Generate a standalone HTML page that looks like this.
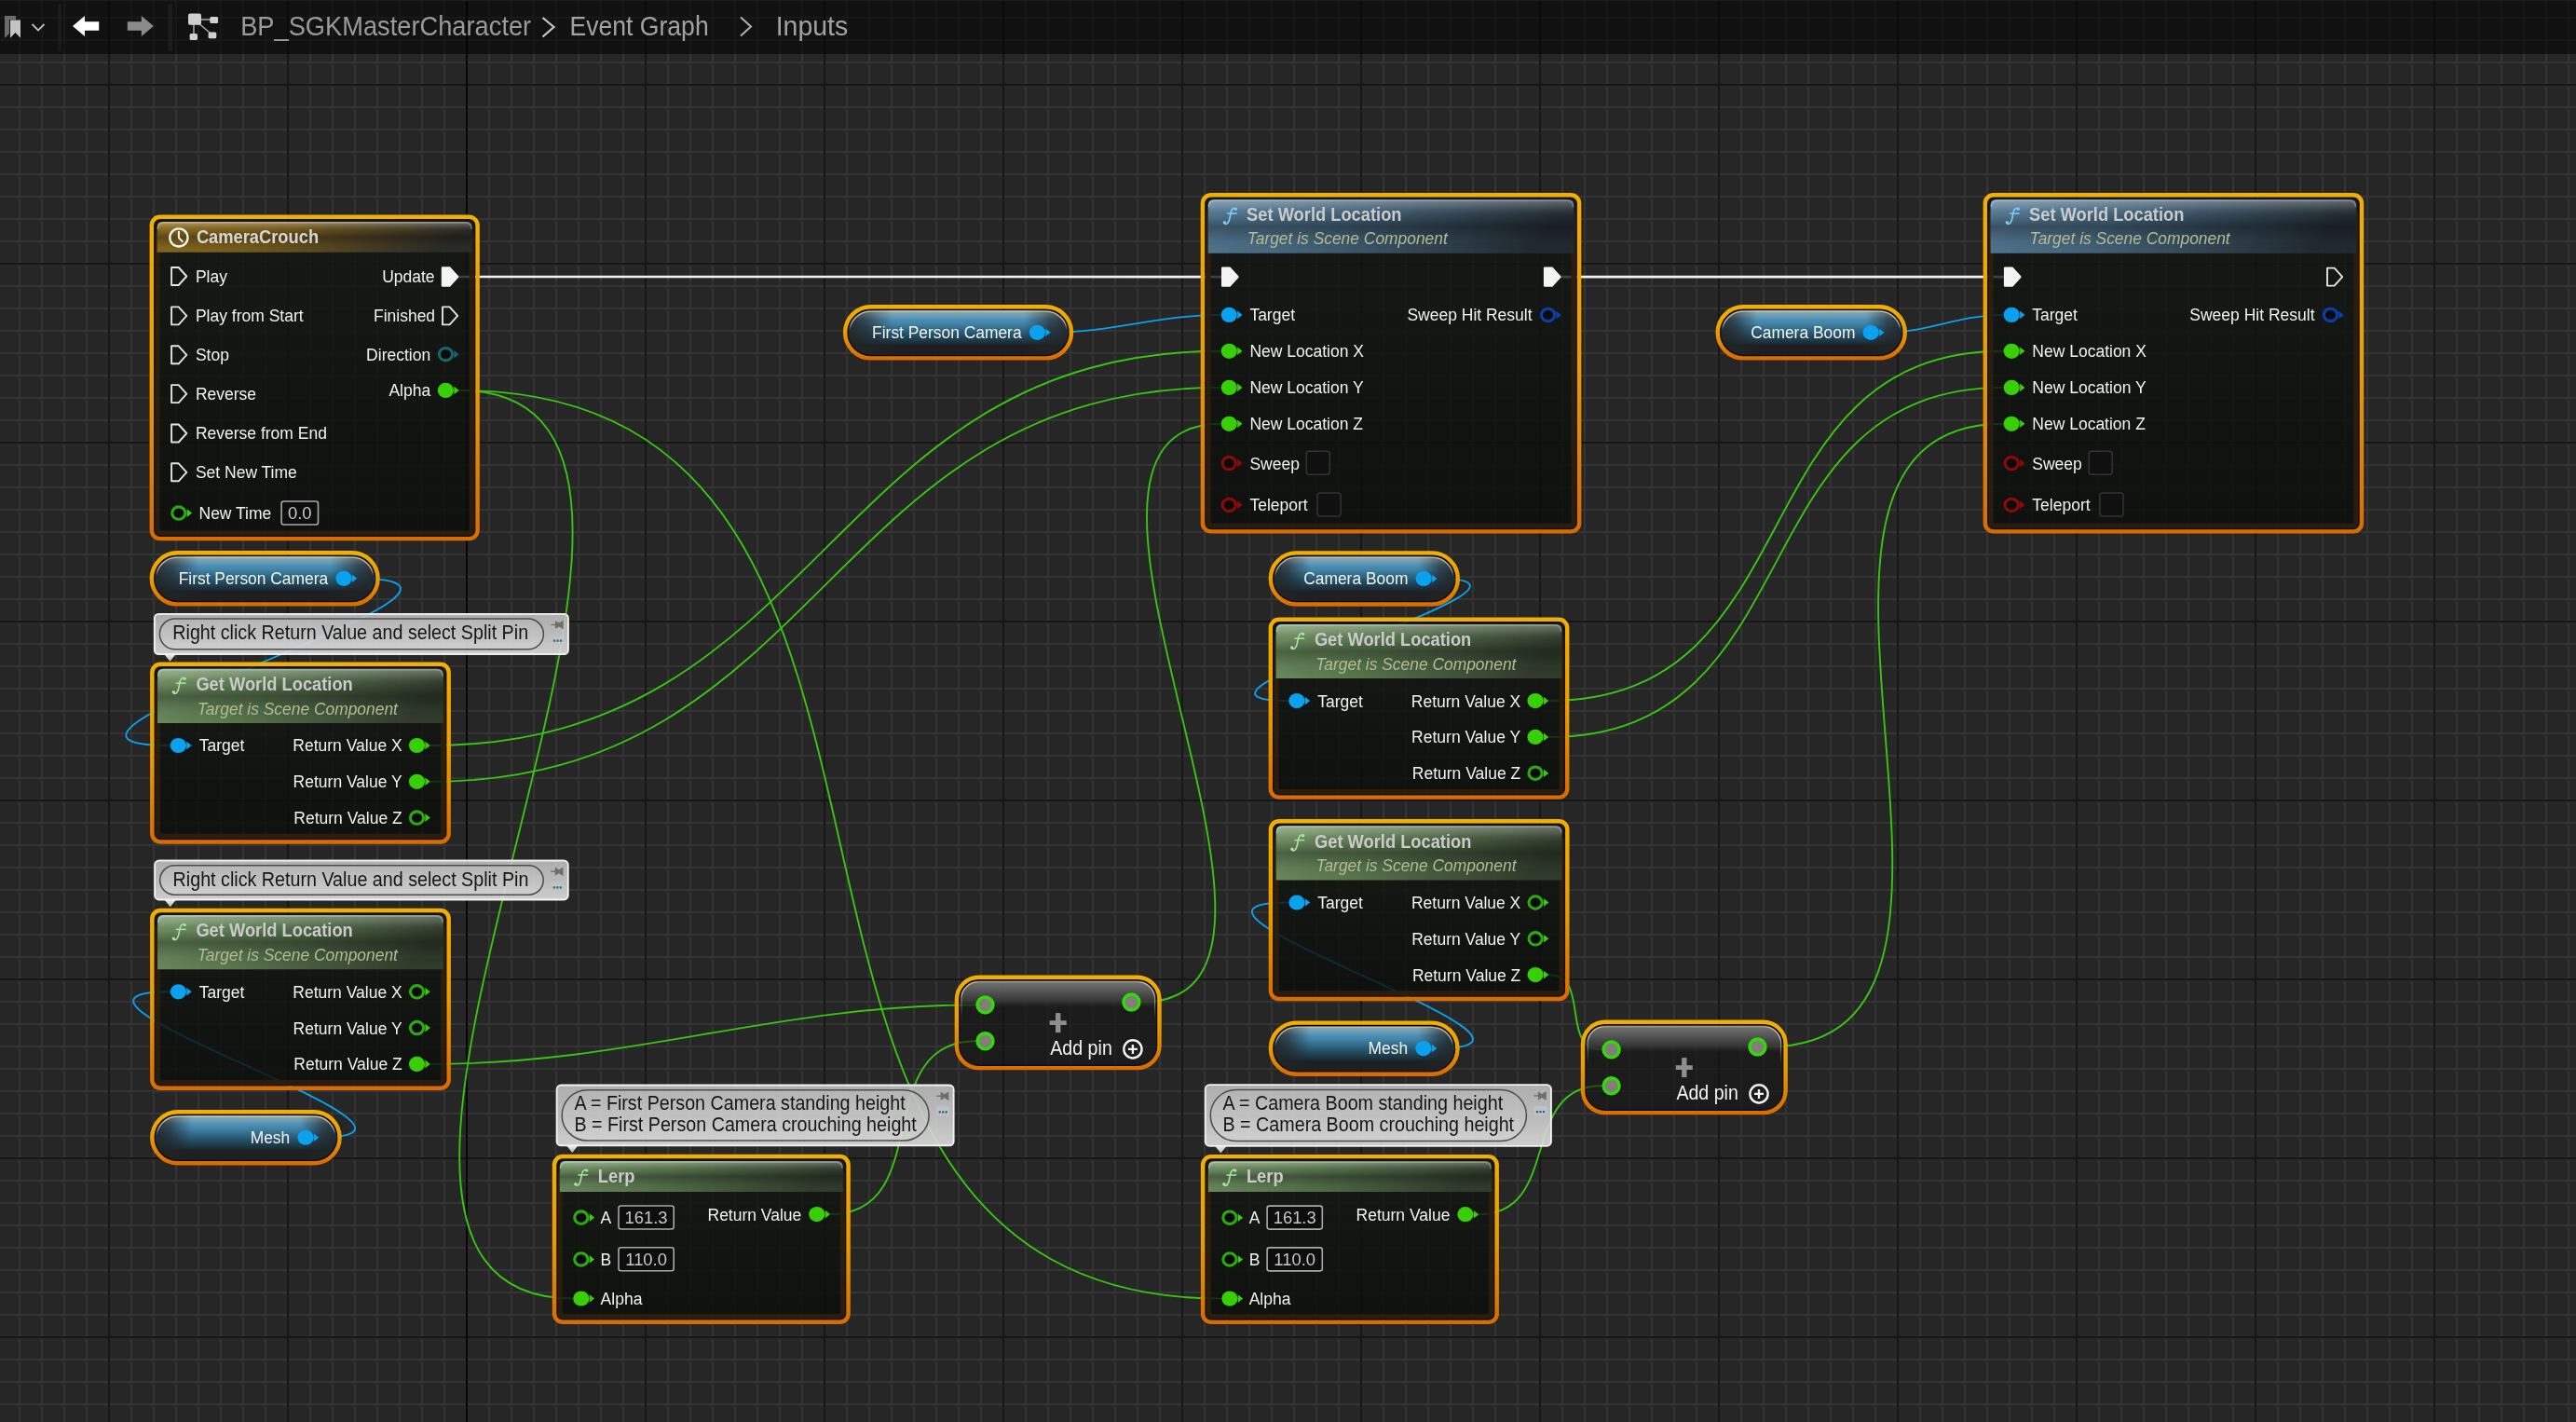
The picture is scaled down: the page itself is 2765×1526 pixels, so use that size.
<!DOCTYPE html><html><head><meta charset="utf-8"><style>

html,body{margin:0;padding:0;background:#262626;}
body{width:2765px;height:1526px;overflow:hidden;position:relative;font-family:"Liberation Sans",sans-serif;}
#grid{position:absolute;left:0;top:0;width:2765px;height:1526px;background-color:#262626;
background-image:
 linear-gradient(to right,#070707 0,#070707 100%),
 linear-gradient(to right,#161616 2px,transparent 2px),
 linear-gradient(to bottom,#161616 2px,transparent 2px),
 linear-gradient(to right,#343434 2px,transparent 2px),
 linear-gradient(to bottom,#343434 2px,transparent 2px);
background-size:2px 100%,192px 100%,100% 192px,24px 100%,100% 24px;
background-position:500px 0,116px 0,0 90px,20px 0,0 18px;
background-repeat:no-repeat,repeat,repeat,repeat,repeat;}
svg{position:absolute;left:0;top:0;will-change:transform;}
text{font-family:"Liberation Sans",sans-serif;}

</style></head><body>
<div id="grid"></div>
<svg width="2765" height="1526" viewBox="0 0 2765 1526">
<defs>

<linearGradient id="ring" x1="0" y1="0" x2="0" y2="1"><stop offset="0" stop-color="#f3af00"/><stop offset="0.5" stop-color="#eb9c00"/><stop offset="1" stop-color="#d96c00"/></linearGradient>
<linearGradient id="gloss" x1="0" y1="0" x2="0" y2="1">
 <stop offset="0" stop-color="#fff" stop-opacity="0.3"/><stop offset="0.14" stop-color="#fff" stop-opacity="0.13"/>
 <stop offset="0.3" stop-color="#000" stop-opacity="0.06"/><stop offset="0.5" stop-color="#000" stop-opacity="0.32"/>
 <stop offset="0.76" stop-color="#000" stop-opacity="0.1"/><stop offset="1" stop-color="#000" stop-opacity="0"/></linearGradient>
<linearGradient id="bodyg" x1="0" y1="0" x2="0" y2="1"><stop offset="0" stop-color="#131613"/><stop offset="1" stop-color="#0a0c0a"/></linearGradient>
<linearGradient id="varblue" x1="0" y1="0" x2="0" y2="1">
 <stop offset="0" stop-color="#85959c"/><stop offset="0.13" stop-color="#58a0c6"/><stop offset="0.3" stop-color="#438db5"/>
 <stop offset="0.55" stop-color="#255670"/><stop offset="0.74" stop-color="#1a303c"/><stop offset="0.79" stop-color="#1d1f21"/><stop offset="1" stop-color="#1d1f21"/></linearGradient>
<linearGradient id="varends" x1="0" y1="0" x2="1" y2="0">
 <stop offset="0" stop-color="#222426" stop-opacity="0.92"/><stop offset="0.08" stop-color="#222426" stop-opacity="0.7"/>
 <stop offset="0.2" stop-color="#222426" stop-opacity="0.05"/><stop offset="0.8" stop-color="#222426" stop-opacity="0.05"/>
 <stop offset="0.92" stop-color="#222426" stop-opacity="0.7"/><stop offset="1" stop-color="#222426" stop-opacity="0.92"/></linearGradient>
<linearGradient id="pillgloss" x1="0" y1="0" x2="0" y2="1">
 <stop offset="0" stop-color="#fff" stop-opacity="0.25"/><stop offset="0.2" stop-color="#fff" stop-opacity="0.03"/><stop offset="0.4" stop-color="#fff" stop-opacity="0"/></linearGradient>
<linearGradient id="addgloss" x1="0" y1="0" x2="0" y2="1">
 <stop offset="0" stop-color="#7a7a7a" stop-opacity="0.95"/><stop offset="0.1" stop-color="#626262" stop-opacity="0.92"/>
 <stop offset="0.24" stop-color="#3c3c3c" stop-opacity="0.85"/><stop offset="0.29" stop-color="#2a2a2a" stop-opacity="0.5"/><stop offset="0.33" stop-color="#1e1e1e" stop-opacity="0"/><stop offset="1" stop-color="#1e1e1e" stop-opacity="0"/></linearGradient>
<linearGradient id="cmt" x1="0" y1="0" x2="0" y2="1"><stop offset="0" stop-color="#bdbdbd"/><stop offset="0.5" stop-color="#cbcbcb"/><stop offset="1" stop-color="#e0e0e0"/></linearGradient>
<linearGradient id="cmtin" x1="0" y1="0" x2="0" y2="1"><stop offset="0" stop-color="#c2c2c2"/><stop offset="1" stop-color="#e4e4e4"/></linearGradient>
<linearGradient id="cmtptr" x1="0" y1="0" x2="0" y2="1"><stop offset="0" stop-color="#e8e8e8"/><stop offset="1" stop-color="#bbbbbb"/></linearGradient>
<linearGradient id="topfade" x1="0" y1="0" x2="0" y2="1"><stop offset="0" stop-color="#fff"/><stop offset="0.25" stop-color="#fff"/><stop offset="0.45" stop-color="#000"/></linearGradient>
<mask id="topmask" maskContentUnits="objectBoundingBox"><rect x="0" y="0" width="1" height="1" fill="url(#topfade)"/></mask>

<linearGradient id="tg1" x1="0" y1="0" x2="1" y2="0.15"><stop offset="0" stop-color="#96741f"/><stop offset="0.4" stop-color="#80631c"/><stop offset="1" stop-color="#2e2e2a"/></linearGradient><linearGradient id="tg2" x1="0" y1="0" x2="1" y2="0.15"><stop offset="0" stop-color="#7b9d6d"/><stop offset="0.4" stop-color="#5f7f54"/><stop offset="1" stop-color="#34402f"/></linearGradient><linearGradient id="tg3" x1="0" y1="0" x2="1" y2="0.15"><stop offset="0" stop-color="#7b9d6d"/><stop offset="0.4" stop-color="#5f7f54"/><stop offset="1" stop-color="#34402f"/></linearGradient><linearGradient id="tg4" x1="0" y1="0" x2="1" y2="0.15"><stop offset="0" stop-color="#5d86a3"/><stop offset="0.4" stop-color="#486a82"/><stop offset="1" stop-color="#242d34"/></linearGradient><linearGradient id="tg5" x1="0" y1="0" x2="1" y2="0.15"><stop offset="0" stop-color="#5d86a3"/><stop offset="0.4" stop-color="#486a82"/><stop offset="1" stop-color="#242d34"/></linearGradient><linearGradient id="tg6" x1="0" y1="0" x2="1" y2="0.15"><stop offset="0" stop-color="#7b9d6d"/><stop offset="0.4" stop-color="#5f7f54"/><stop offset="1" stop-color="#34402f"/></linearGradient><linearGradient id="tg7" x1="0" y1="0" x2="1" y2="0.15"><stop offset="0" stop-color="#7b9d6d"/><stop offset="0.4" stop-color="#5f7f54"/><stop offset="1" stop-color="#34402f"/></linearGradient><linearGradient id="tg8" x1="0" y1="0" x2="1" y2="0.15"><stop offset="0" stop-color="#7b9d6d"/><stop offset="0.4" stop-color="#5f7f54"/><stop offset="1" stop-color="#34402f"/></linearGradient><linearGradient id="tg9" x1="0" y1="0" x2="1" y2="0.15"><stop offset="0" stop-color="#7b9d6d"/><stop offset="0.4" stop-color="#5f7f54"/><stop offset="1" stop-color="#34402f"/></linearGradient>
</defs>
<g id="wires">
<path d="M491.8 297.0C765.0 297.0 1038.0 297.1 1311.2 297.1" fill="none" stroke="#f2f2f2" stroke-width="2.6"/><path d="M1674.9 297.1C1833.6 297.1 1992.4 297.1 2151.1 297.1" fill="none" stroke="#f2f2f2" stroke-width="2.6"/><path d="M1126.9 356.8C1194.5 356.8 1243.1 337.9 1310.7 337.9" fill="none" stroke="#0aa1ec" stroke-width="1.9"/><path d="M2021.7 356.8C2071.0 356.8 2101.3 337.9 2150.6 337.9" fill="none" stroke="#0aa1ec" stroke-width="1.9"/><path d="M382.5 620.8C605.2 620.8 -39.9 800.0 182.8 800.0" fill="none" stroke="#0aa1ec" stroke-width="1.9"/><path d="M341.5 1220.7C525.5 1220.7 -1.2 1064.3 182.8 1064.3" fill="none" stroke="#0aa1ec" stroke-width="1.9"/><path d="M1541.7 620.9C1712.9 620.9 1212.1 752.1 1383.3 752.1" fill="none" stroke="#0aa1ec" stroke-width="1.9"/><path d="M1541.4 1125.1C1725.0 1125.1 1199.8 968.5 1383.4 968.5" fill="none" stroke="#0aa1ec" stroke-width="1.9"/><path d="M461.7 800.0C885.8 800.0 886.6 376.8 1310.7 376.8" fill="none" stroke="#38c412" stroke-width="1.9"/><path d="M461.7 838.8C885.7 838.8 886.7 415.9 1310.7 415.9" fill="none" stroke="#38c412" stroke-width="1.9"/><path d="M461.7 1141.9C678.1 1141.9 830.9 1078.4 1047.3 1078.4" fill="none" stroke="#38c412" stroke-width="1.9"/><path d="M492.6 418.9C858.3 418.9 249.5 1393.5 615.2 1393.5" fill="none" stroke="#38c412" stroke-width="1.9"/><path d="M492.6 418.9C1090.4 418.9 713.5 1393.6 1311.3 1393.6" fill="none" stroke="#38c412" stroke-width="1.9"/><path d="M891.0 1303.1C1005.0 1303.1 933.3 1117.3 1047.3 1117.3" fill="none" stroke="#38c412" stroke-width="1.9"/><path d="M1224.6 1075.5C1460.2 1075.5 1075.1 454.8 1310.7 454.8" fill="none" stroke="#38c412" stroke-width="1.9"/><path d="M1662.2 752.1C1950.1 752.1 1862.7 376.8 2150.6 376.8" fill="none" stroke="#38c412" stroke-width="1.9"/><path d="M1662.2 790.9C1950.0 790.9 1862.8 415.9 2150.6 415.9" fill="none" stroke="#38c412" stroke-width="1.9"/><path d="M1662.3 1046.1C1708.1 1046.1 1673.6 1126.4 1719.4 1126.4" fill="none" stroke="#38c412" stroke-width="1.9"/><path d="M1587.1 1303.2C1677.2 1303.2 1629.3 1165.3 1719.4 1165.3" fill="none" stroke="#38c412" stroke-width="1.9"/><path d="M1896.7 1123.5C2204.2 1123.5 1843.1 454.8 2150.6 454.8" fill="none" stroke="#38c412" stroke-width="1.9"/>
</g>
<g id="nodes">
<rect x="165.6" y="235.6" width="344.2" height="339.7" rx="8.5" fill="url(#bodyg)" fill-opacity="0.8"/>
<path d="M168.5 250.6V567.3Q168.5 572.4 173.6 572.4H501.8Q506.9 572.4 506.9 567.3V250.6" fill="none" stroke="#2e200e" stroke-opacity="0.92" stroke-width="6.0"/>
<path d="M168.6 270.8L506.8 270.8L506.8 243.9Q506.8 237.9 500.8 237.9L174.6 237.9Q168.6 237.9 168.6 243.9Z" fill="url(#tg1)" fill-opacity="0.93"/>
<path d="M168.6 270.8L506.8 270.8L506.8 243.9Q506.8 237.9 500.8 237.9L174.6 237.9Q168.6 237.9 168.6 243.9Z" fill="url(#gloss)"/>
<path d="M169.4 245.9Q169.4 238.9 175.6 238.9L499.8 238.9Q506.0 238.9 506.0 245.9" fill="none" stroke="#ffffff" stroke-opacity="0.26" stroke-width="1.6"/>
<rect x="165.7" y="235.7" width="344.0" height="339.5" rx="6.0" fill="none" stroke="#000" stroke-opacity="0.5" stroke-width="1.3"/>
<rect x="162.8" y="232.8" width="349.8" height="345.3" rx="9.0" fill="none" stroke="url(#ring)" stroke-width="4.4"/>
<circle cx="191.9" cy="254.9" r="9.6" fill="none" stroke="#f6f6f6" stroke-width="2.3"/>
<path d="M191.9 248.1V255.2L196.3 259.7" fill="none" stroke="#f6f6f6" stroke-width="2"/>
<text x="210.9" y="261.1" font-size="20.6" fill="#d6d6d6" font-weight="bold" font-style="normal" textLength="131.2" lengthAdjust="spacingAndGlyphs">CameraCrouch</text>
<path d="M184.1 287.0L191.7 287.0L200.3 296.5L191.7 306.0L184.1 306.0Z" fill="none" stroke="#e4e4e4" stroke-width="1.9" stroke-linejoin="round"/>
<text x="209.9" y="302.9" font-size="18.8" fill="#f2f2f2" font-weight="normal" font-style="normal" textLength="34.0" lengthAdjust="spacingAndGlyphs">Play</text>
<path d="M184.1 329.4L191.7 329.4L200.3 338.9L191.7 348.4L184.1 348.4Z" fill="none" stroke="#e4e4e4" stroke-width="1.9" stroke-linejoin="round"/>
<text x="209.9" y="345.3" font-size="18.8" fill="#f2f2f2" font-weight="normal" font-style="normal" textLength="115.7" lengthAdjust="spacingAndGlyphs">Play from Start</text>
<path d="M184.1 371.3L191.7 371.3L200.3 380.8L191.7 390.3L184.1 390.3Z" fill="none" stroke="#e4e4e4" stroke-width="1.9" stroke-linejoin="round"/>
<text x="209.9" y="387.2" font-size="18.8" fill="#f2f2f2" font-weight="normal" font-style="normal" textLength="36.0" lengthAdjust="spacingAndGlyphs">Stop</text>
<path d="M184.1 413.1L191.7 413.1L200.3 422.6L191.7 432.1L184.1 432.1Z" fill="none" stroke="#e4e4e4" stroke-width="1.9" stroke-linejoin="round"/>
<text x="209.9" y="429.0" font-size="18.8" fill="#f2f2f2" font-weight="normal" font-style="normal" textLength="65.2" lengthAdjust="spacingAndGlyphs">Reverse</text>
<path d="M184.1 455.5L191.7 455.5L200.3 465.0L191.7 474.5L184.1 474.5Z" fill="none" stroke="#e4e4e4" stroke-width="1.9" stroke-linejoin="round"/>
<text x="209.9" y="471.4" font-size="18.8" fill="#f2f2f2" font-weight="normal" font-style="normal" textLength="141.0" lengthAdjust="spacingAndGlyphs">Reverse from End</text>
<path d="M184.1 497.3L191.7 497.3L200.3 506.8L191.7 516.3L184.1 516.3Z" fill="none" stroke="#e4e4e4" stroke-width="1.9" stroke-linejoin="round"/>
<text x="209.9" y="513.2" font-size="18.8" fill="#f2f2f2" font-weight="normal" font-style="normal" textLength="108.9" lengthAdjust="spacingAndGlyphs">Set New Time</text>
<path d="M200.7 546.3L206.1 550.6L200.7 554.9Z" fill="#38cf06"/>
<ellipse cx="191.8" cy="550.6" rx="7.1" ry="6.7" fill="#0a0a0a" stroke="#2cab10" stroke-width="3.1"/>
<text x="213.5" y="557.0" font-size="18.8" fill="#f2f2f2" font-weight="normal" font-style="normal" textLength="77.8" lengthAdjust="spacingAndGlyphs">New Time</text>
<rect x="302.1" y="538.0" width="39.4" height="25" rx="2.5" fill="#0d0d0d" stroke="#a9a9a9" stroke-width="1.6"/>
<text x="321.8" y="557.0" font-size="18.4" fill="#c8c8c8" font-weight="normal" font-style="normal" text-anchor="middle">0.0</text>
<path d="M475.0 287.5L482.6 287.5L491.2 297.0L482.6 306.5L475.0 306.5Z" fill="#f4f4f4" stroke="#f4f4f4" stroke-width="2.4" stroke-linejoin="round"/>
<text x="410.2" y="303.2" font-size="18.8" fill="#f2f2f2" font-weight="normal" font-style="normal" textLength="56.4" lengthAdjust="spacingAndGlyphs">Update</text>
<path d="M475.0 329.4L482.6 329.4L491.2 338.9L482.6 348.4L475.0 348.4Z" fill="none" stroke="#e4e4e4" stroke-width="1.9" stroke-linejoin="round"/>
<text x="401.0" y="345.3" font-size="18.8" fill="#f2f2f2" font-weight="normal" font-style="normal" textLength="66.1" lengthAdjust="spacingAndGlyphs">Finished</text>
<path d="M487.3 375.9L492.7 380.2L487.3 384.5Z" fill="#17666a"/>
<ellipse cx="478.4" cy="380.2" rx="7.1" ry="6.7" fill="#0a0a0a" stroke="#17666a" stroke-width="3.1"/>
<text x="393.1" y="386.6" font-size="18.8" fill="#f2f2f2" font-weight="normal" font-style="normal" textLength="69.1" lengthAdjust="spacingAndGlyphs">Direction</text>
<path d="M487.3 414.6L492.7 418.9L487.3 423.2Z" fill="#38cf06"/>
<ellipse cx="478.4" cy="418.9" rx="8.6" ry="8.1" fill="#38cf06"/>
<text x="417.4" y="425.3" font-size="18.8" fill="#f2f2f2" font-weight="normal" font-style="normal" textLength="44.8" lengthAdjust="spacingAndGlyphs">Alpha</text>
<rect x="166.6" y="597.1" width="235.2" height="47.5" rx="23.8" fill="#1c1e1f" fill-opacity="0.95"/>
<rect x="166.6" y="597.1" width="235.2" height="47.5" rx="23.8" fill="url(#varblue)" fill-opacity="0.95"/>
<rect x="166.6" y="597.1" width="235.2" height="47.5" rx="23.8" fill="url(#varends)"/>
<rect x="166.6" y="597.1" width="235.2" height="47.5" rx="23.8" fill="url(#pillgloss)"/>
<rect x="167.6" y="598.1" width="233.2" height="45.5" rx="22.8" fill="none" stroke="#e9dcae" stroke-opacity="0.75" stroke-width="1.3" mask="url(#topmask)"/>
<rect x="165.6" y="596.1" width="237.2" height="49.5" rx="24.8" fill="none" stroke="#000" stroke-opacity="0.75" stroke-width="1.4"/>
<rect x="162.8" y="593.3" width="242.8" height="55.1" rx="27.6" fill="none" stroke="url(#ring)" stroke-width="4.4"/>
<text x="191.7" y="627.0" font-size="18.0" fill="#f4f4f4" font-weight="normal" font-style="normal" textLength="160.5" lengthAdjust="spacingAndGlyphs">First Person Camera</text>
<path d="M377.9 616.5L383.3 620.8L377.9 625.1Z" fill="#0aa2ee"/>
<ellipse cx="369.0" cy="620.8" rx="8.6" ry="8.1" fill="#0aa2ee"/>
<path d="M176.5 702.5L188.3 702.5L182.5 709.8Z" fill="url(#cmtptr)"/>
<rect x="165.8" y="658.8" width="444.2" height="43.3" rx="4.5" fill="url(#cmt)" fill-opacity="0.9" stroke="#ffffff" stroke-opacity="0.9" stroke-width="1.8"/>
<rect x="171.4" y="664.1" width="412.0" height="32.7" rx="16.4" fill="url(#cmtin)" fill-opacity="0.25" stroke="#4c4c4c" stroke-width="1.5"/>
<text x="185.3" y="686.0" font-size="21.4" fill="#151515" font-weight="normal" font-style="normal" textLength="381.8" lengthAdjust="spacingAndGlyphs">Right click Return Value and select Split Pin</text>
<path d="M591.5 670.5H596.5" stroke="#6e6e6e" stroke-width="1.4"/>
<path d="M596.0 665.9L600.0 668.5L604.7 665.7L604.7 675.3L600.0 672.5L596.0 675.1Z" fill="#6e6e6e"/>
<rect x="591.5" y="681.5" width="14" height="10" rx="1.5" fill="#b9c5cd" fill-opacity="0.9"/>
<path d="M593.9 687.7h2.2M597.4 687.7h2.2M600.9 687.7h2.2" stroke="#4a5a66" stroke-width="2.2"/>
<rect x="166.1" y="715.5" width="312.8" height="185.2" rx="8.5" fill="url(#bodyg)" fill-opacity="0.8"/>
<path d="M169.0 730.5V892.7Q169.0 897.8 174.1 897.8H470.9Q476.0 897.8 476.0 892.7V730.5" fill="none" stroke="#2e200e" stroke-opacity="0.92" stroke-width="6.0"/>
<path d="M169.1 775.9L475.9 775.9L475.9 723.8Q475.9 717.8 469.9 717.8L175.1 717.8Q169.1 717.8 169.1 723.8Z" fill="url(#tg2)" fill-opacity="0.93"/>
<path d="M169.1 775.9L475.9 775.9L475.9 723.8Q475.9 717.8 469.9 717.8L175.1 717.8Q169.1 717.8 169.1 723.8Z" fill="url(#gloss)"/>
<path d="M169.9 725.8Q169.9 718.8 176.1 718.8L468.9 718.8Q475.1 718.8 475.1 725.8" fill="none" stroke="#ffffff" stroke-opacity="0.26" stroke-width="1.6"/>
<rect x="166.2" y="715.6" width="312.6" height="185.0" rx="6.0" fill="none" stroke="#000" stroke-opacity="0.5" stroke-width="1.3"/>
<rect x="163.3" y="712.7" width="318.4" height="190.8" rx="9.0" fill="none" stroke="url(#ring)" stroke-width="4.4"/>
<path d="M185.8 743.3C187.8 745.7 190.8 744.1 191.9 738.0L193.0 732.0C194.0 727.3 197.2 726.8 198.6 728.3" fill="none" stroke="#a8e6a0" stroke-width="1.6" stroke-linecap="round"/>
<circle cx="186.3" cy="742.8" r="1.7" fill="#a8e6a0"/>
<circle cx="198.2" cy="728.2" r="1.6" fill="#a8e6a0"/>
<path d="M188.9 733.1H199.6" stroke="#a8e6a0" stroke-width="1.5"/>
<text x="210.4" y="741.1" font-size="20.2" fill="#cbcbcb" font-weight="bold" font-style="normal" textLength="168.4" lengthAdjust="spacingAndGlyphs">Get World Location</text>
<text x="211.8" y="766.5" font-size="17.6" fill="#b3bb93" font-weight="normal" font-style="italic" textLength="215.1" lengthAdjust="spacingAndGlyphs">Target is Scene Component</text>
<path d="M200.3 795.7L205.7 800.0L200.3 804.3Z" fill="#0aa2ee"/>
<ellipse cx="191.4" cy="800.0" rx="8.6" ry="8.1" fill="#0aa2ee"/>
<text x="213.7" y="806.4" font-size="18.8" fill="#f2f2f2" font-weight="normal" font-style="normal" textLength="48.6" lengthAdjust="spacingAndGlyphs">Target</text>
<path d="M456.4 795.7L461.8 800.0L456.4 804.3Z" fill="#38cf06"/>
<ellipse cx="447.5" cy="800.0" rx="8.6" ry="8.1" fill="#38cf06"/>
<text x="314.3" y="806.4" font-size="18.8" fill="#f2f2f2" font-weight="normal" font-style="normal" textLength="117.4" lengthAdjust="spacingAndGlyphs">Return Value X</text>
<path d="M456.4 834.5L461.8 838.8L456.4 843.1Z" fill="#38cf06"/>
<ellipse cx="447.5" cy="838.8" rx="8.6" ry="8.1" fill="#38cf06"/>
<text x="314.6" y="845.2" font-size="18.8" fill="#f2f2f2" font-weight="normal" font-style="normal" textLength="117.1" lengthAdjust="spacingAndGlyphs">Return Value Y</text>
<path d="M456.4 873.3L461.8 877.6L456.4 881.9Z" fill="#38cf06"/>
<ellipse cx="447.5" cy="877.6" rx="7.1" ry="6.7" fill="#0a0a0a" stroke="#2cab10" stroke-width="3.1"/>
<text x="315.3" y="884.0" font-size="18.8" fill="#f2f2f2" font-weight="normal" font-style="normal" textLength="116.4" lengthAdjust="spacingAndGlyphs">Return Value Z</text>
<path d="M176.8 965.9L188.6 965.9L182.8 973.2Z" fill="url(#cmtptr)"/>
<rect x="166.1" y="923.5" width="443.7" height="42.0" rx="4.5" fill="url(#cmt)" fill-opacity="0.9" stroke="#ffffff" stroke-opacity="0.9" stroke-width="1.8"/>
<rect x="171.7" y="928.8" width="411.5" height="31.4" rx="15.7" fill="url(#cmtin)" fill-opacity="0.25" stroke="#4c4c4c" stroke-width="1.5"/>
<text x="185.6" y="950.7" font-size="21.4" fill="#151515" font-weight="normal" font-style="normal" textLength="381.8" lengthAdjust="spacingAndGlyphs">Right click Return Value and select Split Pin</text>
<path d="M591.3 935.2H596.3" stroke="#6e6e6e" stroke-width="1.4"/>
<path d="M595.8 930.6L599.8 933.2L604.5 930.4L604.5 940.0L599.8 937.2L595.8 939.8Z" fill="#6e6e6e"/>
<rect x="591.3" y="946.2" width="14" height="10" rx="1.5" fill="#b9c5cd" fill-opacity="0.9"/>
<path d="M593.7 952.4h2.2M597.2 952.4h2.2M600.7 952.4h2.2" stroke="#4a5a66" stroke-width="2.2"/>
<rect x="166.1" y="979.8" width="312.8" height="185.2" rx="8.5" fill="url(#bodyg)" fill-opacity="0.8"/>
<path d="M169.0 994.8V1157.0Q169.0 1162.1 174.1 1162.1H470.9Q476.0 1162.1 476.0 1157.0V994.8" fill="none" stroke="#2e200e" stroke-opacity="0.92" stroke-width="6.0"/>
<path d="M169.1 1040.2L475.9 1040.2L475.9 988.1Q475.9 982.1 469.9 982.1L175.1 982.1Q169.1 982.1 169.1 988.1Z" fill="url(#tg3)" fill-opacity="0.93"/>
<path d="M169.1 1040.2L475.9 1040.2L475.9 988.1Q475.9 982.1 469.9 982.1L175.1 982.1Q169.1 982.1 169.1 988.1Z" fill="url(#gloss)"/>
<path d="M169.9 990.1Q169.9 983.1 176.1 983.1L468.9 983.1Q475.1 983.1 475.1 990.1" fill="none" stroke="#ffffff" stroke-opacity="0.26" stroke-width="1.6"/>
<rect x="166.2" y="979.9" width="312.6" height="185.0" rx="6.0" fill="none" stroke="#000" stroke-opacity="0.5" stroke-width="1.3"/>
<rect x="163.3" y="977.0" width="318.4" height="190.8" rx="9.0" fill="none" stroke="url(#ring)" stroke-width="4.4"/>
<path d="M185.8 1007.6C187.8 1010.0 190.8 1008.4 191.9 1002.3L193.0 996.3C194.0 991.6 197.2 991.1 198.6 992.6" fill="none" stroke="#a8e6a0" stroke-width="1.6" stroke-linecap="round"/>
<circle cx="186.3" cy="1007.1" r="1.7" fill="#a8e6a0"/>
<circle cx="198.2" cy="992.5" r="1.6" fill="#a8e6a0"/>
<path d="M188.9 997.4H199.6" stroke="#a8e6a0" stroke-width="1.5"/>
<text x="210.4" y="1005.4" font-size="20.2" fill="#cbcbcb" font-weight="bold" font-style="normal" textLength="168.4" lengthAdjust="spacingAndGlyphs">Get World Location</text>
<text x="211.8" y="1030.8" font-size="17.6" fill="#b3bb93" font-weight="normal" font-style="italic" textLength="215.1" lengthAdjust="spacingAndGlyphs">Target is Scene Component</text>
<path d="M200.3 1060.0L205.7 1064.3L200.3 1068.6Z" fill="#0aa2ee"/>
<ellipse cx="191.4" cy="1064.3" rx="8.6" ry="8.1" fill="#0aa2ee"/>
<text x="213.7" y="1070.7" font-size="18.8" fill="#f2f2f2" font-weight="normal" font-style="normal" textLength="48.6" lengthAdjust="spacingAndGlyphs">Target</text>
<path d="M456.4 1060.0L461.8 1064.3L456.4 1068.6Z" fill="#38cf06"/>
<ellipse cx="447.5" cy="1064.3" rx="7.1" ry="6.7" fill="#0a0a0a" stroke="#2cab10" stroke-width="3.1"/>
<text x="314.3" y="1070.7" font-size="18.8" fill="#f2f2f2" font-weight="normal" font-style="normal" textLength="117.4" lengthAdjust="spacingAndGlyphs">Return Value X</text>
<path d="M456.4 1098.8L461.8 1103.1L456.4 1107.4Z" fill="#38cf06"/>
<ellipse cx="447.5" cy="1103.1" rx="7.1" ry="6.7" fill="#0a0a0a" stroke="#2cab10" stroke-width="3.1"/>
<text x="314.6" y="1109.5" font-size="18.8" fill="#f2f2f2" font-weight="normal" font-style="normal" textLength="117.1" lengthAdjust="spacingAndGlyphs">Return Value Y</text>
<path d="M456.4 1137.6L461.8 1141.9L456.4 1146.2Z" fill="#38cf06"/>
<ellipse cx="447.5" cy="1141.9" rx="8.6" ry="8.1" fill="#38cf06"/>
<text x="315.3" y="1148.3" font-size="18.8" fill="#f2f2f2" font-weight="normal" font-style="normal" textLength="116.4" lengthAdjust="spacingAndGlyphs">Return Value Z</text>
<rect x="167.1" y="1197.0" width="193.7" height="47.5" rx="23.8" fill="#1c1e1f" fill-opacity="0.95"/>
<rect x="167.1" y="1197.0" width="193.7" height="47.5" rx="23.8" fill="url(#varblue)" fill-opacity="0.95"/>
<rect x="167.1" y="1197.0" width="193.7" height="47.5" rx="23.8" fill="url(#varends)"/>
<rect x="167.1" y="1197.0" width="193.7" height="47.5" rx="23.8" fill="url(#pillgloss)"/>
<rect x="168.1" y="1198.0" width="191.7" height="45.5" rx="22.8" fill="none" stroke="#e9dcae" stroke-opacity="0.75" stroke-width="1.3" mask="url(#topmask)"/>
<rect x="166.1" y="1196.0" width="195.7" height="49.5" rx="24.8" fill="none" stroke="#000" stroke-opacity="0.75" stroke-width="1.4"/>
<rect x="163.3" y="1193.2" width="201.3" height="55.1" rx="27.6" fill="none" stroke="url(#ring)" stroke-width="4.4"/>
<text x="268.7" y="1226.9" font-size="18.0" fill="#f4f4f4" font-weight="normal" font-style="normal" textLength="42.5" lengthAdjust="spacingAndGlyphs">Mesh</text>
<path d="M336.9 1216.4L342.3 1220.7L336.9 1225.0Z" fill="#0aa2ee"/>
<ellipse cx="328.0" cy="1220.7" rx="8.6" ry="8.1" fill="#0aa2ee"/>
<rect x="910.9" y="333.1" width="235.3" height="47.5" rx="23.8" fill="#1c1e1f" fill-opacity="0.95"/>
<rect x="910.9" y="333.1" width="235.3" height="47.5" rx="23.8" fill="url(#varblue)" fill-opacity="0.95"/>
<rect x="910.9" y="333.1" width="235.3" height="47.5" rx="23.8" fill="url(#varends)"/>
<rect x="910.9" y="333.1" width="235.3" height="47.5" rx="23.8" fill="url(#pillgloss)"/>
<rect x="911.9" y="334.1" width="233.3" height="45.5" rx="22.8" fill="none" stroke="#e9dcae" stroke-opacity="0.75" stroke-width="1.3" mask="url(#topmask)"/>
<rect x="909.9" y="332.1" width="237.3" height="49.5" rx="24.8" fill="none" stroke="#000" stroke-opacity="0.75" stroke-width="1.4"/>
<rect x="907.1" y="329.3" width="242.9" height="55.1" rx="27.6" fill="none" stroke="url(#ring)" stroke-width="4.4"/>
<text x="936.1" y="363.0" font-size="18.0" fill="#f4f4f4" font-weight="normal" font-style="normal" textLength="160.5" lengthAdjust="spacingAndGlyphs">First Person Camera</text>
<path d="M1122.3 352.5L1127.7 356.8L1122.3 361.1Z" fill="#0aa2ee"/>
<ellipse cx="1113.4" cy="356.8" rx="8.6" ry="8.1" fill="#0aa2ee"/>
<rect x="1293.7" y="212.0" width="398.6" height="355.6" rx="8.5" fill="url(#bodyg)" fill-opacity="0.8"/>
<path d="M1296.6 227.0V559.6Q1296.6 564.7 1301.7 564.7H1684.3Q1689.4 564.7 1689.4 559.6V227.0" fill="none" stroke="#2e200e" stroke-opacity="0.92" stroke-width="6.0"/>
<path d="M1296.7 271.8L1689.3 271.8L1689.3 220.3Q1689.3 214.3 1683.3 214.3L1302.7 214.3Q1296.7 214.3 1296.7 220.3Z" fill="url(#tg4)" fill-opacity="0.93"/>
<path d="M1296.7 271.8L1689.3 271.8L1689.3 220.3Q1689.3 214.3 1683.3 214.3L1302.7 214.3Q1296.7 214.3 1296.7 220.3Z" fill="url(#gloss)"/>
<path d="M1297.5 222.3Q1297.5 215.3 1303.7 215.3L1682.3 215.3Q1688.5 215.3 1688.5 222.3" fill="none" stroke="#ffffff" stroke-opacity="0.26" stroke-width="1.6"/>
<rect x="1293.8" y="212.1" width="398.4" height="355.4" rx="6.0" fill="none" stroke="#000" stroke-opacity="0.5" stroke-width="1.3"/>
<rect x="1290.9" y="209.2" width="404.2" height="361.2" rx="9.0" fill="none" stroke="url(#ring)" stroke-width="4.4"/>
<path d="M1313.9 239.3C1315.9 241.7 1318.9 240.1 1320.0 234.0L1321.1 228.0C1322.1 223.3 1325.3 222.8 1326.7 224.3" fill="none" stroke="#80cdfa" stroke-width="1.6" stroke-linecap="round"/>
<circle cx="1314.4" cy="238.8" r="1.7" fill="#80cdfa"/>
<circle cx="1326.3" cy="224.2" r="1.6" fill="#80cdfa"/>
<path d="M1317.0 229.1H1327.7" stroke="#80cdfa" stroke-width="1.5"/>
<text x="1338.1" y="237.2" font-size="20.2" fill="#cbcbcb" font-weight="bold" font-style="normal" textLength="166.4" lengthAdjust="spacingAndGlyphs">Set World Location</text>
<text x="1338.7" y="262.4" font-size="17.6" fill="#b3bb93" font-weight="normal" font-style="italic" textLength="215.1" lengthAdjust="spacingAndGlyphs">Target is Scene Component</text>
<path d="M1312.2 287.6L1319.8 287.6L1328.4 297.1L1319.8 306.6L1312.2 306.6Z" fill="#f4f4f4" stroke="#f4f4f4" stroke-width="2.4" stroke-linejoin="round"/>
<path d="M1658.1 287.6L1665.7 287.6L1674.3 297.1L1665.7 306.6L1658.1 306.6Z" fill="#f4f4f4" stroke="#f4f4f4" stroke-width="2.4" stroke-linejoin="round"/>
<path d="M1328.2 333.6L1333.6 337.9L1328.2 342.2Z" fill="#0aa2ee"/>
<ellipse cx="1319.3" cy="337.9" rx="8.6" ry="8.1" fill="#0aa2ee"/>
<text x="1341.4" y="344.3" font-size="18.8" fill="#f2f2f2" font-weight="normal" font-style="normal" textLength="48.6" lengthAdjust="spacingAndGlyphs">Target</text>
<path d="M1328.2 372.5L1333.6 376.8L1328.2 381.1Z" fill="#38cf06"/>
<ellipse cx="1319.3" cy="376.8" rx="8.6" ry="8.1" fill="#38cf06"/>
<text x="1341.4" y="383.2" font-size="18.8" fill="#f2f2f2" font-weight="normal" font-style="normal" textLength="122.6" lengthAdjust="spacingAndGlyphs">New Location X</text>
<path d="M1328.2 411.6L1333.6 415.9L1328.2 420.2Z" fill="#38cf06"/>
<ellipse cx="1319.3" cy="415.9" rx="8.6" ry="8.1" fill="#38cf06"/>
<text x="1341.4" y="422.3" font-size="18.8" fill="#f2f2f2" font-weight="normal" font-style="normal" textLength="122.3" lengthAdjust="spacingAndGlyphs">New Location Y</text>
<path d="M1328.2 450.5L1333.6 454.8L1328.2 459.1Z" fill="#38cf06"/>
<ellipse cx="1319.3" cy="454.8" rx="8.6" ry="8.1" fill="#38cf06"/>
<text x="1341.4" y="461.2" font-size="18.8" fill="#f2f2f2" font-weight="normal" font-style="normal" textLength="121.6" lengthAdjust="spacingAndGlyphs">New Location Z</text>
<path d="M1328.2 492.8L1333.6 497.1L1328.2 501.4Z" fill="#8c0a0a"/>
<ellipse cx="1319.3" cy="497.1" rx="7.1" ry="6.7" fill="#0a0a0a" stroke="#8c0a0a" stroke-width="3.1"/>
<text x="1341.4" y="503.5" font-size="18.8" fill="#f2f2f2" font-weight="normal" font-style="normal" textLength="53.5" lengthAdjust="spacingAndGlyphs">Sweep</text>
<rect x="1402.3" y="484.3" width="25" height="25" rx="3" fill="#101010" stroke="#333" stroke-width="1.5"/>
<path d="M1328.2 537.6L1333.6 541.9L1328.2 546.2Z" fill="#8c0a0a"/>
<ellipse cx="1319.3" cy="541.9" rx="7.1" ry="6.7" fill="#0a0a0a" stroke="#8c0a0a" stroke-width="3.1"/>
<text x="1341.4" y="548.3" font-size="18.8" fill="#f2f2f2" font-weight="normal" font-style="normal" textLength="62.3" lengthAdjust="spacingAndGlyphs">Teleport</text>
<rect x="1414.1" y="529.1" width="25" height="25" rx="3" fill="#101010" stroke="#333" stroke-width="1.5"/>
<path d="M1670.5 333.6L1675.9 337.9L1670.5 342.2Z" fill="#0b3fa8"/>
<ellipse cx="1661.6" cy="337.9" rx="7.1" ry="6.7" fill="#0a0a0a" stroke="#0b3fa8" stroke-width="3.1"/>
<text x="1510.4" y="344.3" font-size="18.8" fill="#f2f2f2" font-weight="normal" font-style="normal" textLength="134.2" lengthAdjust="spacingAndGlyphs">Sweep Hit Result</text>
<rect x="1847.5" y="333.1" width="193.5" height="47.5" rx="23.8" fill="#1c1e1f" fill-opacity="0.95"/>
<rect x="1847.5" y="333.1" width="193.5" height="47.5" rx="23.8" fill="url(#varblue)" fill-opacity="0.95"/>
<rect x="1847.5" y="333.1" width="193.5" height="47.5" rx="23.8" fill="url(#varends)"/>
<rect x="1847.5" y="333.1" width="193.5" height="47.5" rx="23.8" fill="url(#pillgloss)"/>
<rect x="1848.5" y="334.1" width="191.5" height="45.5" rx="22.8" fill="none" stroke="#e9dcae" stroke-opacity="0.75" stroke-width="1.3" mask="url(#topmask)"/>
<rect x="1846.5" y="332.1" width="195.5" height="49.5" rx="24.8" fill="none" stroke="#000" stroke-opacity="0.75" stroke-width="1.4"/>
<rect x="1843.7" y="329.3" width="201.1" height="55.1" rx="27.6" fill="none" stroke="url(#ring)" stroke-width="4.4"/>
<text x="1879.2" y="363.0" font-size="18.0" fill="#f4f4f4" font-weight="normal" font-style="normal" textLength="112.2" lengthAdjust="spacingAndGlyphs">Camera Boom</text>
<path d="M2017.1 352.5L2022.5 356.8L2017.1 361.1Z" fill="#0aa2ee"/>
<ellipse cx="2008.2" cy="356.8" rx="8.6" ry="8.1" fill="#0aa2ee"/>
<rect x="2133.6" y="212.0" width="398.6" height="355.6" rx="8.5" fill="url(#bodyg)" fill-opacity="0.8"/>
<path d="M2136.5 227.0V559.6Q2136.5 564.7 2141.6 564.7H2524.2Q2529.3 564.7 2529.3 559.6V227.0" fill="none" stroke="#2e200e" stroke-opacity="0.92" stroke-width="6.0"/>
<path d="M2136.6 271.8L2529.2 271.8L2529.2 220.3Q2529.2 214.3 2523.2 214.3L2142.6 214.3Q2136.6 214.3 2136.6 220.3Z" fill="url(#tg5)" fill-opacity="0.93"/>
<path d="M2136.6 271.8L2529.2 271.8L2529.2 220.3Q2529.2 214.3 2523.2 214.3L2142.6 214.3Q2136.6 214.3 2136.6 220.3Z" fill="url(#gloss)"/>
<path d="M2137.4 222.3Q2137.4 215.3 2143.6 215.3L2522.2 215.3Q2528.4 215.3 2528.4 222.3" fill="none" stroke="#ffffff" stroke-opacity="0.26" stroke-width="1.6"/>
<rect x="2133.7" y="212.1" width="398.4" height="355.4" rx="6.0" fill="none" stroke="#000" stroke-opacity="0.5" stroke-width="1.3"/>
<rect x="2130.8" y="209.2" width="404.2" height="361.2" rx="9.0" fill="none" stroke="url(#ring)" stroke-width="4.4"/>
<path d="M2153.8 239.3C2155.8 241.7 2158.8 240.1 2159.9 234.0L2161.0 228.0C2162.0 223.3 2165.2 222.8 2166.6 224.3" fill="none" stroke="#80cdfa" stroke-width="1.6" stroke-linecap="round"/>
<circle cx="2154.3" cy="238.8" r="1.7" fill="#80cdfa"/>
<circle cx="2166.2" cy="224.2" r="1.6" fill="#80cdfa"/>
<path d="M2156.9 229.1H2167.6" stroke="#80cdfa" stroke-width="1.5"/>
<text x="2178.0" y="237.2" font-size="20.2" fill="#cbcbcb" font-weight="bold" font-style="normal" textLength="166.4" lengthAdjust="spacingAndGlyphs">Set World Location</text>
<text x="2178.6" y="262.4" font-size="17.6" fill="#b3bb93" font-weight="normal" font-style="italic" textLength="215.1" lengthAdjust="spacingAndGlyphs">Target is Scene Component</text>
<path d="M2152.1 287.6L2159.7 287.6L2168.3 297.1L2159.7 306.6L2152.1 306.6Z" fill="#f4f4f4" stroke="#f4f4f4" stroke-width="2.4" stroke-linejoin="round"/>
<path d="M2498.0 287.6L2505.6 287.6L2514.2 297.1L2505.6 306.6L2498.0 306.6Z" fill="none" stroke="#e4e4e4" stroke-width="1.9" stroke-linejoin="round"/>
<path d="M2168.1 333.6L2173.5 337.9L2168.1 342.2Z" fill="#0aa2ee"/>
<ellipse cx="2159.2" cy="337.9" rx="8.6" ry="8.1" fill="#0aa2ee"/>
<text x="2181.3" y="344.3" font-size="18.8" fill="#f2f2f2" font-weight="normal" font-style="normal" textLength="48.6" lengthAdjust="spacingAndGlyphs">Target</text>
<path d="M2168.1 372.5L2173.5 376.8L2168.1 381.1Z" fill="#38cf06"/>
<ellipse cx="2159.2" cy="376.8" rx="8.6" ry="8.1" fill="#38cf06"/>
<text x="2181.3" y="383.2" font-size="18.8" fill="#f2f2f2" font-weight="normal" font-style="normal" textLength="122.6" lengthAdjust="spacingAndGlyphs">New Location X</text>
<path d="M2168.1 411.6L2173.5 415.9L2168.1 420.2Z" fill="#38cf06"/>
<ellipse cx="2159.2" cy="415.9" rx="8.6" ry="8.1" fill="#38cf06"/>
<text x="2181.3" y="422.3" font-size="18.8" fill="#f2f2f2" font-weight="normal" font-style="normal" textLength="122.3" lengthAdjust="spacingAndGlyphs">New Location Y</text>
<path d="M2168.1 450.5L2173.5 454.8L2168.1 459.1Z" fill="#38cf06"/>
<ellipse cx="2159.2" cy="454.8" rx="8.6" ry="8.1" fill="#38cf06"/>
<text x="2181.3" y="461.2" font-size="18.8" fill="#f2f2f2" font-weight="normal" font-style="normal" textLength="121.6" lengthAdjust="spacingAndGlyphs">New Location Z</text>
<path d="M2168.1 492.8L2173.5 497.1L2168.1 501.4Z" fill="#8c0a0a"/>
<ellipse cx="2159.2" cy="497.1" rx="7.1" ry="6.7" fill="#0a0a0a" stroke="#8c0a0a" stroke-width="3.1"/>
<text x="2181.3" y="503.5" font-size="18.8" fill="#f2f2f2" font-weight="normal" font-style="normal" textLength="53.5" lengthAdjust="spacingAndGlyphs">Sweep</text>
<rect x="2242.2" y="484.3" width="25" height="25" rx="3" fill="#101010" stroke="#333" stroke-width="1.5"/>
<path d="M2168.1 537.6L2173.5 541.9L2168.1 546.2Z" fill="#8c0a0a"/>
<ellipse cx="2159.2" cy="541.9" rx="7.1" ry="6.7" fill="#0a0a0a" stroke="#8c0a0a" stroke-width="3.1"/>
<text x="2181.3" y="548.3" font-size="18.8" fill="#f2f2f2" font-weight="normal" font-style="normal" textLength="62.3" lengthAdjust="spacingAndGlyphs">Teleport</text>
<rect x="2254.0" y="529.1" width="25" height="25" rx="3" fill="#101010" stroke="#333" stroke-width="1.5"/>
<path d="M2510.4 333.6L2515.8 337.9L2510.4 342.2Z" fill="#0b3fa8"/>
<ellipse cx="2501.5" cy="337.9" rx="7.1" ry="6.7" fill="#0a0a0a" stroke="#0b3fa8" stroke-width="3.1"/>
<text x="2350.3" y="344.3" font-size="18.8" fill="#f2f2f2" font-weight="normal" font-style="normal" textLength="134.2" lengthAdjust="spacingAndGlyphs">Sweep Hit Result</text>
<rect x="1367.6" y="597.2" width="193.4" height="47.5" rx="23.8" fill="#1c1e1f" fill-opacity="0.95"/>
<rect x="1367.6" y="597.2" width="193.4" height="47.5" rx="23.8" fill="url(#varblue)" fill-opacity="0.95"/>
<rect x="1367.6" y="597.2" width="193.4" height="47.5" rx="23.8" fill="url(#varends)"/>
<rect x="1367.6" y="597.2" width="193.4" height="47.5" rx="23.8" fill="url(#pillgloss)"/>
<rect x="1368.6" y="598.2" width="191.4" height="45.5" rx="22.8" fill="none" stroke="#e9dcae" stroke-opacity="0.75" stroke-width="1.3" mask="url(#topmask)"/>
<rect x="1366.6" y="596.2" width="195.4" height="49.5" rx="24.8" fill="none" stroke="#000" stroke-opacity="0.75" stroke-width="1.4"/>
<rect x="1363.8" y="593.4" width="201.0" height="55.1" rx="27.6" fill="none" stroke="url(#ring)" stroke-width="4.4"/>
<text x="1399.2" y="627.1" font-size="18.0" fill="#f4f4f4" font-weight="normal" font-style="normal" textLength="112.2" lengthAdjust="spacingAndGlyphs">Camera Boom</text>
<path d="M1537.1 616.6L1542.5 620.9L1537.1 625.2Z" fill="#0aa2ee"/>
<ellipse cx="1528.2" cy="620.9" rx="8.6" ry="8.1" fill="#0aa2ee"/>
<rect x="1366.6" y="667.6" width="312.8" height="185.2" rx="8.5" fill="url(#bodyg)" fill-opacity="0.8"/>
<path d="M1369.5 682.6V844.8Q1369.5 849.9 1374.6 849.9H1671.4Q1676.5 849.9 1676.5 844.8V682.6" fill="none" stroke="#2e200e" stroke-opacity="0.92" stroke-width="6.0"/>
<path d="M1369.6 728.0L1676.4 728.0L1676.4 675.9Q1676.4 669.9 1670.4 669.9L1375.6 669.9Q1369.6 669.9 1369.6 675.9Z" fill="url(#tg6)" fill-opacity="0.93"/>
<path d="M1369.6 728.0L1676.4 728.0L1676.4 675.9Q1676.4 669.9 1670.4 669.9L1375.6 669.9Q1369.6 669.9 1369.6 675.9Z" fill="url(#gloss)"/>
<path d="M1370.4 677.9Q1370.4 670.9 1376.6 670.9L1669.4 670.9Q1675.6 670.9 1675.6 677.9" fill="none" stroke="#ffffff" stroke-opacity="0.26" stroke-width="1.6"/>
<rect x="1366.7" y="667.7" width="312.6" height="185.0" rx="6.0" fill="none" stroke="#000" stroke-opacity="0.5" stroke-width="1.3"/>
<rect x="1363.8" y="664.8" width="318.4" height="190.8" rx="9.0" fill="none" stroke="url(#ring)" stroke-width="4.4"/>
<path d="M1386.3 695.4C1388.3 697.8 1391.3 696.2 1392.4 690.1L1393.5 684.1C1394.5 679.4 1397.7 678.9 1399.1 680.4" fill="none" stroke="#a8e6a0" stroke-width="1.6" stroke-linecap="round"/>
<circle cx="1386.8" cy="694.9" r="1.7" fill="#a8e6a0"/>
<circle cx="1398.7" cy="680.3" r="1.6" fill="#a8e6a0"/>
<path d="M1389.4 685.2H1400.1" stroke="#a8e6a0" stroke-width="1.5"/>
<text x="1410.9" y="693.2" font-size="20.2" fill="#cbcbcb" font-weight="bold" font-style="normal" textLength="168.4" lengthAdjust="spacingAndGlyphs">Get World Location</text>
<text x="1412.3" y="718.6" font-size="17.6" fill="#b3bb93" font-weight="normal" font-style="italic" textLength="215.1" lengthAdjust="spacingAndGlyphs">Target is Scene Component</text>
<path d="M1400.8 747.8L1406.2 752.1L1400.8 756.4Z" fill="#0aa2ee"/>
<ellipse cx="1391.9" cy="752.1" rx="8.6" ry="8.1" fill="#0aa2ee"/>
<text x="1414.2" y="758.5" font-size="18.8" fill="#f2f2f2" font-weight="normal" font-style="normal" textLength="48.6" lengthAdjust="spacingAndGlyphs">Target</text>
<path d="M1656.9 747.8L1662.3 752.1L1656.9 756.4Z" fill="#38cf06"/>
<ellipse cx="1648.0" cy="752.1" rx="8.6" ry="8.1" fill="#38cf06"/>
<text x="1514.8" y="758.5" font-size="18.8" fill="#f2f2f2" font-weight="normal" font-style="normal" textLength="117.4" lengthAdjust="spacingAndGlyphs">Return Value X</text>
<path d="M1656.9 786.6L1662.3 790.9L1656.9 795.2Z" fill="#38cf06"/>
<ellipse cx="1648.0" cy="790.9" rx="8.6" ry="8.1" fill="#38cf06"/>
<text x="1515.1" y="797.3" font-size="18.8" fill="#f2f2f2" font-weight="normal" font-style="normal" textLength="117.1" lengthAdjust="spacingAndGlyphs">Return Value Y</text>
<path d="M1656.9 825.4L1662.3 829.7L1656.9 834.0Z" fill="#38cf06"/>
<ellipse cx="1648.0" cy="829.7" rx="7.1" ry="6.7" fill="#0a0a0a" stroke="#2cab10" stroke-width="3.1"/>
<text x="1515.8" y="836.1" font-size="18.8" fill="#f2f2f2" font-weight="normal" font-style="normal" textLength="116.4" lengthAdjust="spacingAndGlyphs">Return Value Z</text>
<rect x="1366.7" y="884.0" width="312.8" height="185.2" rx="8.5" fill="url(#bodyg)" fill-opacity="0.8"/>
<path d="M1369.6 899.0V1061.2Q1369.6 1066.3 1374.7 1066.3H1671.5Q1676.6 1066.3 1676.6 1061.2V899.0" fill="none" stroke="#2e200e" stroke-opacity="0.92" stroke-width="6.0"/>
<path d="M1369.7 944.4L1676.5 944.4L1676.5 892.3Q1676.5 886.3 1670.5 886.3L1375.7 886.3Q1369.7 886.3 1369.7 892.3Z" fill="url(#tg7)" fill-opacity="0.93"/>
<path d="M1369.7 944.4L1676.5 944.4L1676.5 892.3Q1676.5 886.3 1670.5 886.3L1375.7 886.3Q1369.7 886.3 1369.7 892.3Z" fill="url(#gloss)"/>
<path d="M1370.5 894.3Q1370.5 887.3 1376.7 887.3L1669.5 887.3Q1675.7 887.3 1675.7 894.3" fill="none" stroke="#ffffff" stroke-opacity="0.26" stroke-width="1.6"/>
<rect x="1366.8" y="884.1" width="312.6" height="185.0" rx="6.0" fill="none" stroke="#000" stroke-opacity="0.5" stroke-width="1.3"/>
<rect x="1363.9" y="881.2" width="318.4" height="190.8" rx="9.0" fill="none" stroke="url(#ring)" stroke-width="4.4"/>
<path d="M1386.4 911.8C1388.4 914.2 1391.4 912.6 1392.5 906.5L1393.6 900.5C1394.6 895.8 1397.8 895.3 1399.2 896.8" fill="none" stroke="#a8e6a0" stroke-width="1.6" stroke-linecap="round"/>
<circle cx="1386.9" cy="911.3" r="1.7" fill="#a8e6a0"/>
<circle cx="1398.8" cy="896.7" r="1.6" fill="#a8e6a0"/>
<path d="M1389.5 901.6H1400.2" stroke="#a8e6a0" stroke-width="1.5"/>
<text x="1411.0" y="909.6" font-size="20.2" fill="#cbcbcb" font-weight="bold" font-style="normal" textLength="168.4" lengthAdjust="spacingAndGlyphs">Get World Location</text>
<text x="1412.4" y="935.0" font-size="17.6" fill="#b3bb93" font-weight="normal" font-style="italic" textLength="215.1" lengthAdjust="spacingAndGlyphs">Target is Scene Component</text>
<path d="M1400.9 964.2L1406.3 968.5L1400.9 972.8Z" fill="#0aa2ee"/>
<ellipse cx="1392.0" cy="968.5" rx="8.6" ry="8.1" fill="#0aa2ee"/>
<text x="1414.3" y="974.9" font-size="18.8" fill="#f2f2f2" font-weight="normal" font-style="normal" textLength="48.6" lengthAdjust="spacingAndGlyphs">Target</text>
<path d="M1657.0 964.2L1662.4 968.5L1657.0 972.8Z" fill="#38cf06"/>
<ellipse cx="1648.1" cy="968.5" rx="7.1" ry="6.7" fill="#0a0a0a" stroke="#2cab10" stroke-width="3.1"/>
<text x="1514.9" y="974.9" font-size="18.8" fill="#f2f2f2" font-weight="normal" font-style="normal" textLength="117.4" lengthAdjust="spacingAndGlyphs">Return Value X</text>
<path d="M1657.0 1003.0L1662.4 1007.3L1657.0 1011.6Z" fill="#38cf06"/>
<ellipse cx="1648.1" cy="1007.3" rx="7.1" ry="6.7" fill="#0a0a0a" stroke="#2cab10" stroke-width="3.1"/>
<text x="1515.2" y="1013.7" font-size="18.8" fill="#f2f2f2" font-weight="normal" font-style="normal" textLength="117.1" lengthAdjust="spacingAndGlyphs">Return Value Y</text>
<path d="M1657.0 1041.8L1662.4 1046.1L1657.0 1050.4Z" fill="#38cf06"/>
<ellipse cx="1648.1" cy="1046.1" rx="8.6" ry="8.1" fill="#38cf06"/>
<text x="1515.9" y="1052.5" font-size="18.8" fill="#f2f2f2" font-weight="normal" font-style="normal" textLength="116.4" lengthAdjust="spacingAndGlyphs">Return Value Z</text>
<rect x="1367.7" y="1101.4" width="193.0" height="47.5" rx="23.8" fill="#1c1e1f" fill-opacity="0.95"/>
<rect x="1367.7" y="1101.4" width="193.0" height="47.5" rx="23.8" fill="url(#varblue)" fill-opacity="0.95"/>
<rect x="1367.7" y="1101.4" width="193.0" height="47.5" rx="23.8" fill="url(#varends)"/>
<rect x="1367.7" y="1101.4" width="193.0" height="47.5" rx="23.8" fill="url(#pillgloss)"/>
<rect x="1368.7" y="1102.4" width="191.0" height="45.5" rx="22.8" fill="none" stroke="#e9dcae" stroke-opacity="0.75" stroke-width="1.3" mask="url(#topmask)"/>
<rect x="1366.7" y="1100.4" width="195.0" height="49.5" rx="24.8" fill="none" stroke="#000" stroke-opacity="0.75" stroke-width="1.4"/>
<rect x="1363.9" y="1097.6" width="200.6" height="55.1" rx="27.6" fill="none" stroke="url(#ring)" stroke-width="4.4"/>
<text x="1468.6" y="1131.3" font-size="18.0" fill="#f4f4f4" font-weight="normal" font-style="normal" textLength="42.5" lengthAdjust="spacingAndGlyphs">Mesh</text>
<path d="M1536.8 1120.8L1542.2 1125.1L1536.8 1129.4Z" fill="#0aa2ee"/>
<ellipse cx="1527.9" cy="1125.1" rx="8.6" ry="8.1" fill="#0aa2ee"/>
<rect x="1030.7" y="1052.6" width="210.0" height="89.7" rx="20.0" fill="#151515" fill-opacity="0.62"/>
<rect x="1030.7" y="1052.6" width="210.0" height="89.7" rx="20.0" fill="url(#addgloss)"/>
<rect x="1031.7" y="1053.6" width="208.0" height="87.7" rx="19.0" fill="none" stroke="#e9dcae" stroke-opacity="0.75" stroke-width="1.3" mask="url(#topmask)"/>
<rect x="1029.7" y="1051.6" width="212.0" height="91.7" rx="21.0" fill="none" stroke="#000" stroke-opacity="0.75" stroke-width="1.4"/>
<rect x="1026.9" y="1048.8" width="217.6" height="97.3" rx="23.8" fill="none" stroke="url(#ring)" stroke-width="4.4"/>
<circle cx="1057.5" cy="1078.4" r="8.4" fill="#857c7c" stroke="#33d80a" stroke-width="3.6"/>
<circle cx="1057.5" cy="1117.3" r="8.4" fill="#857c7c" stroke="#33d80a" stroke-width="3.6"/>
<circle cx="1214.4" cy="1075.5" r="8.4" fill="#857c7c" stroke="#33d80a" stroke-width="3.6"/>
<rect x="1126.7" y="1095.2" width="18" height="4.8" fill="#8e8e8e"/>
<rect x="1133.0" y="1087.1" width="5.4" height="21" fill="#8e8e8e"/>
<text x="1127.3" y="1131.9" font-size="21.2" fill="#f4f4f4" font-weight="normal" font-style="normal" textLength="66.5" lengthAdjust="spacingAndGlyphs">Add pin</text>
<circle cx="1215.9" cy="1125.9" r="9.6" fill="none" stroke="#f4f4f4" stroke-width="2.4"/>
<path d="M1210.9 1125.9H1220.9M1215.9 1120.9V1130.9" stroke="#f4f4f4" stroke-width="2.3"/>
<rect x="1702.8" y="1100.6" width="210.0" height="89.7" rx="20.0" fill="#151515" fill-opacity="0.62"/>
<rect x="1702.8" y="1100.6" width="210.0" height="89.7" rx="20.0" fill="url(#addgloss)"/>
<rect x="1703.8" y="1101.6" width="208.0" height="87.7" rx="19.0" fill="none" stroke="#e9dcae" stroke-opacity="0.75" stroke-width="1.3" mask="url(#topmask)"/>
<rect x="1701.8" y="1099.6" width="212.0" height="91.7" rx="21.0" fill="none" stroke="#000" stroke-opacity="0.75" stroke-width="1.4"/>
<rect x="1699.0" y="1096.8" width="217.6" height="97.3" rx="23.8" fill="none" stroke="url(#ring)" stroke-width="4.4"/>
<circle cx="1729.6" cy="1126.4" r="8.4" fill="#857c7c" stroke="#33d80a" stroke-width="3.6"/>
<circle cx="1729.6" cy="1165.3" r="8.4" fill="#857c7c" stroke="#33d80a" stroke-width="3.6"/>
<circle cx="1886.5" cy="1123.5" r="8.4" fill="#857c7c" stroke="#33d80a" stroke-width="3.6"/>
<rect x="1798.8" y="1143.2" width="18" height="4.8" fill="#8e8e8e"/>
<rect x="1805.1" y="1135.1" width="5.4" height="21" fill="#8e8e8e"/>
<text x="1799.4" y="1179.9" font-size="21.2" fill="#f4f4f4" font-weight="normal" font-style="normal" textLength="66.5" lengthAdjust="spacingAndGlyphs">Add pin</text>
<circle cx="1888.0" cy="1173.9" r="9.6" fill="none" stroke="#f4f4f4" stroke-width="2.4"/>
<path d="M1883.0 1173.9H1893.0M1888.0 1168.9V1178.9" stroke="#f4f4f4" stroke-width="2.3"/>
<path d="M608.3 1229.8L620.1 1229.8L614.3 1237.1Z" fill="url(#cmtptr)"/>
<rect x="597.6" y="1164.5" width="426.1" height="64.9" rx="4.5" fill="url(#cmt)" fill-opacity="0.9" stroke="#ffffff" stroke-opacity="0.9" stroke-width="1.8"/>
<rect x="603.2" y="1169.8" width="393.9" height="54.3" rx="27.2" fill="url(#cmtin)" fill-opacity="0.25" stroke="#4c4c4c" stroke-width="1.5"/>
<text x="616.4" y="1190.8" font-size="21.4" fill="#151515" font-weight="normal" font-style="normal" textLength="355.3" lengthAdjust="spacingAndGlyphs">A = First Person Camera standing height</text>
<text x="616.4" y="1213.8" font-size="21.4" fill="#151515" font-weight="normal" font-style="normal" textLength="367.4" lengthAdjust="spacingAndGlyphs">B = First Person Camera crouching height</text>
<path d="M1005.2 1176.2H1010.2" stroke="#6e6e6e" stroke-width="1.4"/>
<path d="M1009.7 1171.6L1013.7 1174.2L1018.4 1171.4L1018.4 1181.0L1013.7 1178.2L1009.7 1180.8Z" fill="#6e6e6e"/>
<rect x="1005.2" y="1187.2" width="14" height="10" rx="1.5" fill="#b9c5cd" fill-opacity="0.9"/>
<path d="M1007.6 1193.4h2.2M1011.1 1193.4h2.2M1014.6 1193.4h2.2" stroke="#4a5a66" stroke-width="2.2"/>
<rect x="597.8" y="1243.8" width="310.0" height="172.2" rx="8.5" fill="url(#bodyg)" fill-opacity="0.8"/>
<path d="M600.7 1258.8V1408.0Q600.7 1413.1 605.8 1413.1H899.8Q904.9 1413.1 904.9 1408.0V1258.8" fill="none" stroke="#2e200e" stroke-opacity="0.92" stroke-width="6.0"/>
<path d="M600.8 1279.0L904.8 1279.0L904.8 1252.1Q904.8 1246.1 898.8 1246.1L606.8 1246.1Q600.8 1246.1 600.8 1252.1Z" fill="url(#tg8)" fill-opacity="0.93"/>
<path d="M600.8 1279.0L904.8 1279.0L904.8 1252.1Q904.8 1246.1 898.8 1246.1L606.8 1246.1Q600.8 1246.1 600.8 1252.1Z" fill="url(#gloss)"/>
<path d="M601.6 1254.1Q601.6 1247.1 607.8 1247.1L897.8 1247.1Q904.0 1247.1 904.0 1254.1" fill="none" stroke="#ffffff" stroke-opacity="0.26" stroke-width="1.6"/>
<rect x="597.9" y="1243.9" width="309.8" height="172.0" rx="6.0" fill="none" stroke="#000" stroke-opacity="0.5" stroke-width="1.3"/>
<rect x="595.0" y="1241.0" width="315.6" height="177.8" rx="9.0" fill="none" stroke="url(#ring)" stroke-width="4.4"/>
<path d="M617.3 1271.1C619.3 1273.5 622.3 1271.9 623.4 1265.8L624.5 1259.8C625.5 1255.1 628.7 1254.6 630.1 1256.1" fill="none" stroke="#a8e6a0" stroke-width="1.6" stroke-linecap="round"/>
<circle cx="617.8" cy="1270.6" r="1.7" fill="#a8e6a0"/>
<circle cx="629.7" cy="1256.0" r="1.6" fill="#a8e6a0"/>
<path d="M620.4 1260.9H631.1" stroke="#a8e6a0" stroke-width="1.5"/>
<text x="641.8" y="1269.0" font-size="20.2" fill="#cbcbcb" font-weight="bold" font-style="normal" textLength="39.7" lengthAdjust="spacingAndGlyphs">Lerp</text>
<path d="M632.7 1302.3L638.1 1306.6L632.7 1310.9Z" fill="#38cf06"/>
<ellipse cx="623.8" cy="1306.6" rx="7.1" ry="6.7" fill="#0a0a0a" stroke="#2cab10" stroke-width="3.1"/>
<text x="644.6" y="1313.0" font-size="18.8" fill="#f2f2f2" font-weight="normal" font-style="normal" textLength="11.7" lengthAdjust="spacingAndGlyphs">A</text>
<rect x="664.0" y="1294.0" width="59.2" height="25" rx="2.5" fill="#0d0d0d" stroke="#a9a9a9" stroke-width="1.6"/>
<text x="693.6" y="1313.0" font-size="18.4" fill="#c8c8c8" font-weight="normal" font-style="normal" text-anchor="middle">161.3</text>
<path d="M632.7 1347.1L638.1 1351.4L632.7 1355.7Z" fill="#38cf06"/>
<ellipse cx="623.8" cy="1351.4" rx="7.1" ry="6.7" fill="#0a0a0a" stroke="#2cab10" stroke-width="3.1"/>
<text x="644.6" y="1357.8" font-size="18.8" fill="#f2f2f2" font-weight="normal" font-style="normal" textLength="11.7" lengthAdjust="spacingAndGlyphs">B</text>
<rect x="664.0" y="1338.8" width="59.2" height="25" rx="2.5" fill="#0d0d0d" stroke="#a9a9a9" stroke-width="1.6"/>
<text x="693.6" y="1357.8" font-size="18.4" fill="#c8c8c8" font-weight="normal" font-style="normal" text-anchor="middle">110.0</text>
<path d="M632.7 1389.2L638.1 1393.5L632.7 1397.8Z" fill="#38cf06"/>
<ellipse cx="623.8" cy="1393.5" rx="8.6" ry="8.1" fill="#38cf06"/>
<text x="644.6" y="1399.9" font-size="18.8" fill="#f2f2f2" font-weight="normal" font-style="normal" textLength="44.8" lengthAdjust="spacingAndGlyphs">Alpha</text>
<path d="M885.7 1298.8L891.1 1303.1L885.7 1307.4Z" fill="#38cf06"/>
<ellipse cx="876.8" cy="1303.1" rx="8.6" ry="8.1" fill="#38cf06"/>
<text x="759.5" y="1309.5" font-size="18.8" fill="#f2f2f2" font-weight="normal" font-style="normal" textLength="100.8" lengthAdjust="spacingAndGlyphs">Return Value</text>
<path d="M1304.4 1230.2L1316.2 1230.2L1310.4 1237.5Z" fill="url(#cmtptr)"/>
<rect x="1293.7" y="1164.2" width="371.3" height="65.6" rx="4.5" fill="url(#cmt)" fill-opacity="0.9" stroke="#ffffff" stroke-opacity="0.9" stroke-width="1.8"/>
<rect x="1299.3" y="1169.5" width="339.1" height="55.0" rx="27.5" fill="url(#cmtin)" fill-opacity="0.25" stroke="#4c4c4c" stroke-width="1.5"/>
<text x="1312.5" y="1190.5" font-size="21.4" fill="#151515" font-weight="normal" font-style="normal" textLength="300.6" lengthAdjust="spacingAndGlyphs">A = Camera Boom standing height</text>
<text x="1312.5" y="1213.5" font-size="21.4" fill="#151515" font-weight="normal" font-style="normal" textLength="312.6" lengthAdjust="spacingAndGlyphs">B = Camera Boom crouching height</text>
<path d="M1646.5 1175.9H1651.5" stroke="#6e6e6e" stroke-width="1.4"/>
<path d="M1651.0 1171.3L1655.0 1173.9L1659.7 1171.1L1659.7 1180.7L1655.0 1177.9L1651.0 1180.5Z" fill="#6e6e6e"/>
<rect x="1646.5" y="1186.9" width="14" height="10" rx="1.5" fill="#b9c5cd" fill-opacity="0.9"/>
<path d="M1648.9 1193.1h2.2M1652.4 1193.1h2.2M1655.9 1193.1h2.2" stroke="#4a5a66" stroke-width="2.2"/>
<rect x="1293.9" y="1243.9" width="310.0" height="172.2" rx="8.5" fill="url(#bodyg)" fill-opacity="0.8"/>
<path d="M1296.8 1258.9V1408.1Q1296.8 1413.2 1301.9 1413.2H1595.9Q1601.0 1413.2 1601.0 1408.1V1258.9" fill="none" stroke="#2e200e" stroke-opacity="0.92" stroke-width="6.0"/>
<path d="M1296.9 1279.1L1600.9 1279.1L1600.9 1252.2Q1600.9 1246.2 1594.9 1246.2L1302.9 1246.2Q1296.9 1246.2 1296.9 1252.2Z" fill="url(#tg9)" fill-opacity="0.93"/>
<path d="M1296.9 1279.1L1600.9 1279.1L1600.9 1252.2Q1600.9 1246.2 1594.9 1246.2L1302.9 1246.2Q1296.9 1246.2 1296.9 1252.2Z" fill="url(#gloss)"/>
<path d="M1297.7 1254.2Q1297.7 1247.2 1303.9 1247.2L1593.9 1247.2Q1600.1 1247.2 1600.1 1254.2" fill="none" stroke="#ffffff" stroke-opacity="0.26" stroke-width="1.6"/>
<rect x="1294.0" y="1244.0" width="309.8" height="172.0" rx="6.0" fill="none" stroke="#000" stroke-opacity="0.5" stroke-width="1.3"/>
<rect x="1291.1" y="1241.1" width="315.6" height="177.8" rx="9.0" fill="none" stroke="url(#ring)" stroke-width="4.4"/>
<path d="M1313.4 1271.2C1315.4 1273.6 1318.4 1272.0 1319.5 1265.9L1320.6 1259.9C1321.6 1255.2 1324.8 1254.7 1326.2 1256.2" fill="none" stroke="#a8e6a0" stroke-width="1.6" stroke-linecap="round"/>
<circle cx="1313.9" cy="1270.7" r="1.7" fill="#a8e6a0"/>
<circle cx="1325.8" cy="1256.1" r="1.6" fill="#a8e6a0"/>
<path d="M1316.5 1261.0H1327.2" stroke="#a8e6a0" stroke-width="1.5"/>
<text x="1337.9" y="1269.1" font-size="20.2" fill="#cbcbcb" font-weight="bold" font-style="normal" textLength="39.7" lengthAdjust="spacingAndGlyphs">Lerp</text>
<path d="M1328.8 1302.4L1334.2 1306.7L1328.8 1311.0Z" fill="#38cf06"/>
<ellipse cx="1319.9" cy="1306.7" rx="7.1" ry="6.7" fill="#0a0a0a" stroke="#2cab10" stroke-width="3.1"/>
<text x="1340.7" y="1313.1" font-size="18.8" fill="#f2f2f2" font-weight="normal" font-style="normal" textLength="11.7" lengthAdjust="spacingAndGlyphs">A</text>
<rect x="1360.1" y="1294.1" width="59.2" height="25" rx="2.5" fill="#0d0d0d" stroke="#a9a9a9" stroke-width="1.6"/>
<text x="1389.7" y="1313.1" font-size="18.4" fill="#c8c8c8" font-weight="normal" font-style="normal" text-anchor="middle">161.3</text>
<path d="M1328.8 1347.2L1334.2 1351.5L1328.8 1355.8Z" fill="#38cf06"/>
<ellipse cx="1319.9" cy="1351.5" rx="7.1" ry="6.7" fill="#0a0a0a" stroke="#2cab10" stroke-width="3.1"/>
<text x="1340.7" y="1357.9" font-size="18.8" fill="#f2f2f2" font-weight="normal" font-style="normal" textLength="11.7" lengthAdjust="spacingAndGlyphs">B</text>
<rect x="1360.1" y="1338.9" width="59.2" height="25" rx="2.5" fill="#0d0d0d" stroke="#a9a9a9" stroke-width="1.6"/>
<text x="1389.7" y="1357.9" font-size="18.4" fill="#c8c8c8" font-weight="normal" font-style="normal" text-anchor="middle">110.0</text>
<path d="M1328.8 1389.3L1334.2 1393.6L1328.8 1397.9Z" fill="#38cf06"/>
<ellipse cx="1319.9" cy="1393.6" rx="8.6" ry="8.1" fill="#38cf06"/>
<text x="1340.7" y="1400.0" font-size="18.8" fill="#f2f2f2" font-weight="normal" font-style="normal" textLength="44.8" lengthAdjust="spacingAndGlyphs">Alpha</text>
<path d="M1581.8 1298.9L1587.2 1303.2L1581.8 1307.5Z" fill="#38cf06"/>
<ellipse cx="1572.9" cy="1303.2" rx="8.6" ry="8.1" fill="#38cf06"/>
<text x="1455.6" y="1309.6" font-size="18.8" fill="#f2f2f2" font-weight="normal" font-style="normal" textLength="100.8" lengthAdjust="spacingAndGlyphs">Return Value</text>
</g>
<g id="toolbar">
<rect x="0" y="0" width="2765" height="58" fill="#000" fill-opacity="0.53"/><rect x="0" y="0" width="2765" height="1.2" fill="#1d1d1d"/><path d="M5 17H17V21H10V36L5 41Z" fill="#6a6a6a"/><path d="M11 21.5H22V40.8L16.5 35L11 40.8Z" fill="#c4c4c4"/><path d="M34.5 26L41 32.5L47.5 26" fill="none" stroke="#bdbdbd" stroke-width="1.8"/><rect x="62.3" y="4" width="3.5" height="50.5" fill="#1c1c1c"/><path d="M78 28L91 16.9V23.3H106.2V32.7H91V39Z" fill="#ffffff"/><path d="M164.8 28L151.8 16.9V23.3H136.8V32.7H151.8V39Z" fill="#8a8a8a"/><rect x="180.3" y="4" width="4.7" height="50.5" fill="#1c1c1c"/><path d="M216 21H230M208 26V40M212 24L228 37.5" stroke="#a8a8a8" stroke-width="1.5"/><rect x="202" y="14.6" width="14" height="12.2" rx="2" fill="#d0d0d0"/><rect x="225.3" y="18" width="8.8" height="7" rx="1.5" fill="#d0d0d0"/><rect x="203.6" y="36" width="8.4" height="7.1" rx="1.5" fill="#d0d0d0"/><rect x="223.6" y="34.4" width="8.7" height="6.9" rx="1.5" fill="#d0d0d0"/><text x="258.2" y="38.2" font-size="29.6" fill="#9a9a9a" textLength="312.0" lengthAdjust="spacingAndGlyphs">BP_SGKMasterCharacter</text><path d="M582.5 19L594.5 29L582.5 39.5" fill="none" stroke="#c8c8c8" stroke-width="2.2"/><text x="611.4" y="38.2" font-size="29.6" fill="#a2a2a2" textLength="149.3" lengthAdjust="spacingAndGlyphs">Event Graph</text><path d="M795 18.5L806 28.5L795 38.5" fill="none" stroke="#b0b0b0" stroke-width="2.0"/><text x="832.7" y="38.2" font-size="29.6" fill="#a2a2a2" textLength="77.6" lengthAdjust="spacingAndGlyphs">Inputs</text>
</g>
</svg></body></html>
